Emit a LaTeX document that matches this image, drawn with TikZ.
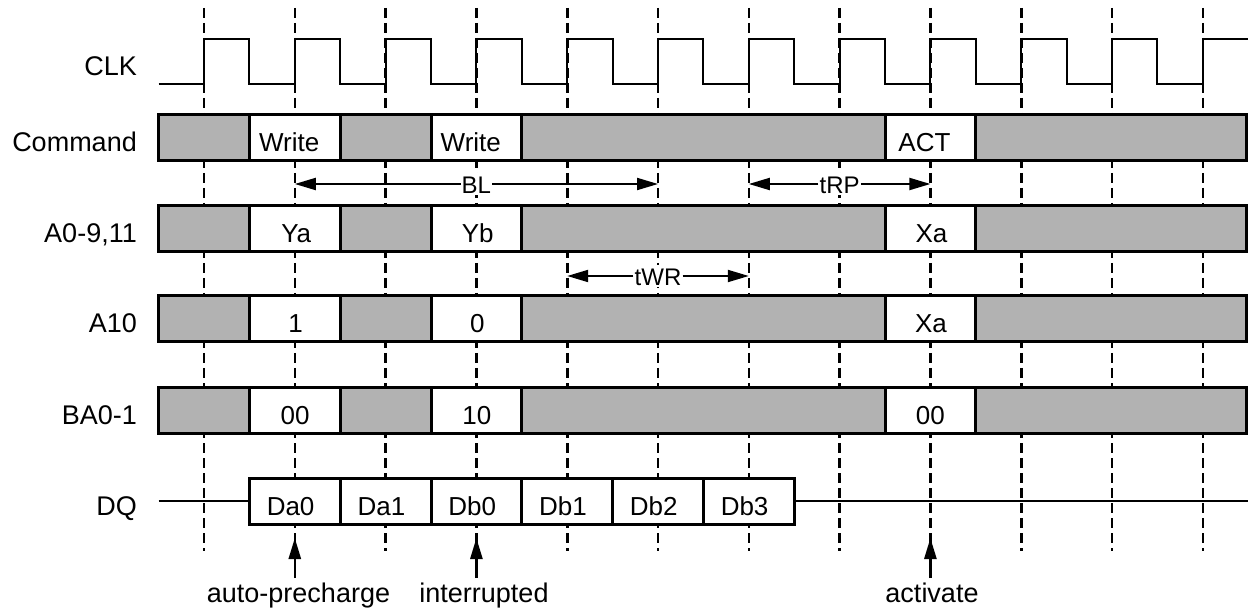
\documentclass[tikz,border=0pt]{standalone}
\usepackage{fontspec}
\setmainfont{Liberation Sans}
\usetikzlibrary{arrows.meta}
\definecolor{busgray}{RGB}{178,178,178}
\tikzset{
  edgeline/.style={line width=2.6pt, dash pattern=on 10pt off 5pt},
  clkline/.style={line width=2pt},
  bus/.style={line width=3pt},
  sig/.style={line width=2pt},
  arr/.style={line width=2pt},
  uparr/.style={line width=2.6pt},
  side/.style={anchor=base east, inner sep=0pt, font=\fontsize{27}{30}\selectfont},
  cell/.style={anchor=base, inner sep=0pt, font=\fontsize{26}{30}\selectfont},
  tlabel/.style={fill=white, inner sep=1pt, text height=20pt, text depth=0pt, font=\fontsize{24}{28}\selectfont},
  note/.style={anchor=base, inner sep=4pt, font=\fontsize{27}{30}\selectfont},
}
\begin{document}
\begin{tikzpicture}[x=1pt, y=-1pt, >={Triangle[length=21pt,width=12pt]}]
\def\T{90.8}
\useasboundingbox (0,0) rectangle (1248,612);
% rising edges
\foreach \k in {0,...,11}
  \coordinate (r\k) at ({204+\T*\k},0);
\foreach \k in {0,...,11}
  \draw[edgeline] (r\k) ++(0,8) -- ++(0,543);
% clock
\node[side] (clk) at (137,76) {CLK};
\draw[clkline] (158.6,84) \foreach \k in {0,...,10}{ -- ({204+\T*\k},84) -- ++(0,-45) -- ++(45.4,0) -- ++(0,45)}
  -- (r11 |- 0,84) -- (r11 |- 0,39) -- (1248,39);
% bus rows
\foreach \id/\y/\lbl/\ta/\tb/\tc/\dx in {cmd/138/Command/Write/Write/ACT/-6, addr/229/{A0-9,11}/Ya/Yb/Xa/1, a10/319/A10/1/0/Xa/0.5, bank/410/BA0-1/00/10/00/0}{
  \node[side] (\id) at (137,\y+14) {\lbl};
  \foreach \sa/\sb/\col in {0/1/busgray, 1/2/white, 2/3/busgray, 3/4/white, 4/8/busgray, 8/9/white, 9/12/busgray}
    \draw[bus, fill=\col] ({158.6+\T*\sa},\y-23) rectangle ({min(158.6+\T*\sb,1246.5)},\y+23);
  \node[cell] (\id-a) at ({295.2+\dx},\y+14) {\ta};
  \node[cell] (\id-b) at ({476.8+\dx},\y+14) {\tb};
  \node[cell] (\id-c) at ({930.4+\dx},\y+14) {\tc};
}
% data
\node[side] (dq) at (137,515) {DQ};
\draw[sig] (158.6,501) -- (249.4,501) (794.2,501) -- (1248,501);
\foreach \n/\lbl in {1/Da0, 2/Da1, 3/Db0, 4/Db1, 5/Db2, 6/Db3}{
  \draw[bus, fill=white] ({158.6+\T*\n},478) rectangle ({249.4+\T*\n},524);
  \node[cell] (d\n) at ({290.6+\T*(\n-1)},515) {\lbl};
}
% timing arrows
\node[tlabel] (bl) at (476.4,184) {BL};
\draw[->, arr] (bl) -- (bl -| r5);
\draw[->, arr] (bl) -- (bl -| r1);
\node[tlabel] (trp) at (839.6,184) {tRP};
\draw[->, arr] (trp) -- (trp -| r8);
\draw[->, arr] (trp) -- (trp -| r6);
\node[tlabel] (twr) at (658,276) {tWR};
\draw[->, arr] (twr) -- (twr -| r6);
\draw[->, arr] (twr) -- (twr -| r4);
% notes
\node[note] (ap) at (298.5,602) {auto-precharge};
\node[note] (intr) at (484,602) {interrupted};
\node[note] (act) at (932,602) {activate};
\draw[->, uparr] (ap.north -| r1) -- (r1 |- 0,538);
\draw[->, uparr] (intr.north -| r3) -- (r3 |- 0,538);
\draw[->, uparr] (act.north -| r8) -- (r8 |- 0,538);
\end{tikzpicture}
\end{document}
